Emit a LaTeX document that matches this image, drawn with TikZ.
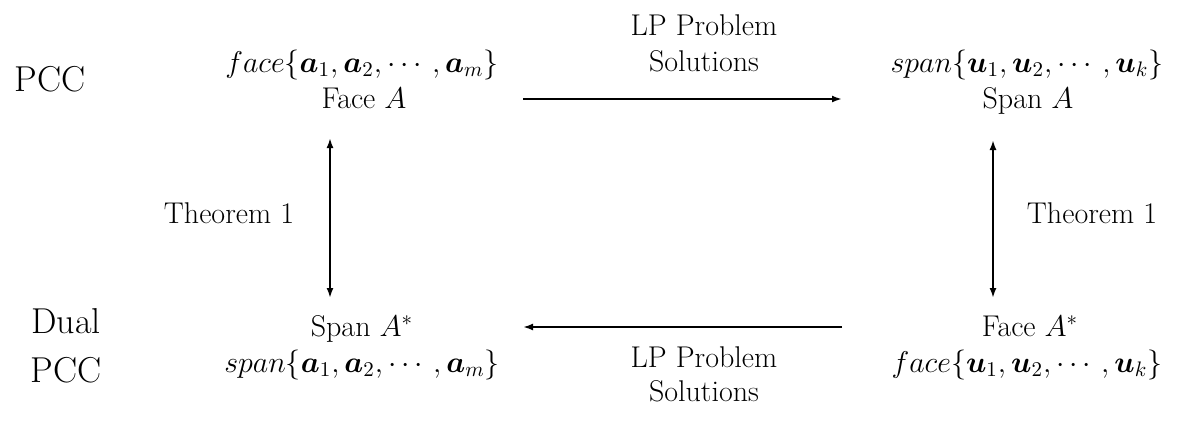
\RequirePackage{fix-cm}
\documentclass[tikz,border=0pt]{standalone}
\usepackage{amsmath,bm}
\usepackage{fontspec}
\usetikzlibrary{arrows.meta}
\begin{document}
\begin{tikzpicture}[x=0.5pt,y=-0.5pt,
  lbl/.style={inner sep=0pt, anchor=base, font=\fontsize{15}{18}\selectfont},
  big/.style={inner sep=0pt, anchor=base, font=\fontsize{18}{22}\selectfont},
  arr/.style={line width=1pt, -{Latex[length=5pt,width=3.5pt]}},
  darr/.style={line width=1pt, {Latex[length=5pt,width=3.5pt]}-{Latex[length=5pt,width=3.5pt]}}]
\useasboundingbox (0,0) rectangle (1189,428);
% row labels
\node[big] (pcc) at (50,91) {PCC};
\node[big] (dual) at (66,333) {Dual};
\node[big] (pcc2) at (66,382) {PCC};
% top left
\node[lbl] (faceset) at (362,72) {$face\{\bm{a}_1,\bm{a}_2,\cdots,\bm{a}_m\}$};
\node[lbl] (faceA) at (364,108) {Face $A$};
% top middle
\node[lbl] (lp1) at (704,35) {LP Problem};
\node[lbl] (sol1) at (704,71) {Solutions};
% top right
\node[lbl] (spanset) at (1027,72) {$span\{\bm{u}_1,\bm{u}_2,\cdots,\bm{u}_k\}$};
\node[lbl] (spanA) at (1028,108) {Span $A$};
% theorems
\node[lbl] (th1) at (229,223) {Theorem 1};
\node[lbl] (th2) at (1092,223) {Theorem 1};
% bottom left
\node[lbl] (spanAs) at (362,336) {Span $A^*$};
\node[lbl] (spanset2) at (362,372) {$span\{\bm{a}_1,\bm{a}_2,\cdots,\bm{a}_m\}$};
% bottom middle
\node[lbl] (lp2) at (704,367) {LP Problem};
\node[lbl] (sol2) at (704,401) {Solutions};
% bottom right
\node[lbl] (faceAs) at (1030,336) {Face $A^*$};
\node[lbl] (faceset2) at (1027,372) {$face\{\bm{u}_1,\bm{u}_2,\cdots,\bm{u}_k\}$};
% arrow end points
\coordinate (ta) at (523,99);
\coordinate (tb) at (842,99);
\coordinate (ba) at (842,327);
\coordinate (bb) at (523,327);
\coordinate (la) at (330,138);
\coordinate (lb) at (330,298);
\coordinate (ra) at (993,140);
\coordinate (rb) at (993,298);
\draw[arr] (ta) -- (tb);
\draw[arr] (ba) -- (bb);
\draw[darr] (la) -- (lb);
\draw[darr] (ra) -- (rb);
\end{tikzpicture}
\end{document}
